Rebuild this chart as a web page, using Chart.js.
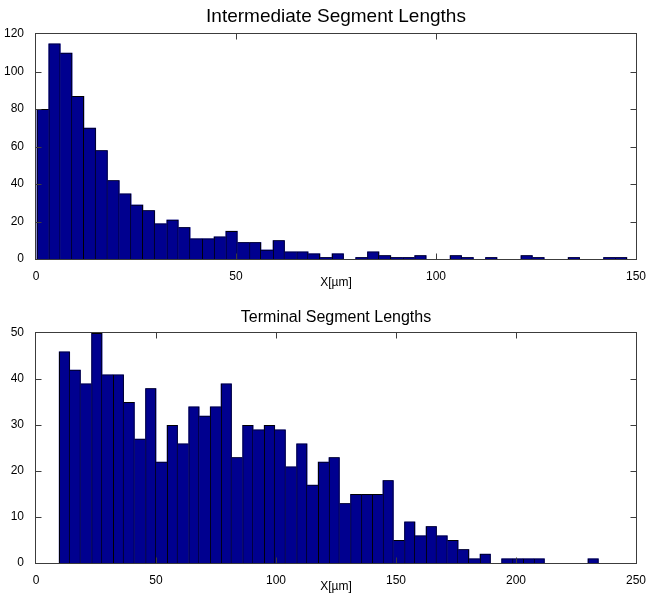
<!DOCTYPE html>
<html>
<head>
<meta charset="utf-8">
<title>Segment Lengths</title>
<script src="https://cdn.jsdelivr.net/npm/chart.js@4/dist/chart.umd.min.js"></script>
<style>
  html, body { margin: 0; padding: 0; background: #fff; }
  #wrap { position: relative; width: 650px; height: 599px; }
  canvas { position: absolute; left: 0; }
</style>
</head>
<body>
<div id="wrap">
  <canvas id="intermediate" width="650" height="300" style="top:0"></canvas>
  <canvas id="terminal" width="650" height="299" style="top:300px"></canvas>
</div>
<script>
// ---- data ----------------------------------------------------------------
const intermediateTitle = 'Intermediate Segment Lengths';
const terminalTitle = 'Terminal Segment Lengths';
const xAxisLabel = 'X[µm]';

// histogram counts per bin (50 bins each)
const intermediateCounts = [
  80, 115, 110, 87, 70, 58, 42, 35, 29, 26,
  19, 21, 17, 11, 11, 12, 15, 9, 9, 5,
  10, 4, 4, 3, 1, 3, 0, 1, 4, 2,
  1, 1, 2, 0, 0, 2, 1, 0, 1, 0,
  0, 2, 1, 0, 0, 1, 0, 0, 1, 1
];
const terminalCounts = [
  46, 42, 39, 50, 41, 41, 35, 27, 38, 22,
  30, 26, 34, 32, 34, 39, 23, 30, 29, 30,
  29, 21, 26, 17, 22, 23, 13, 15, 15, 15,
  18, 5, 9, 6, 8, 6, 5, 3, 1, 2,
  0, 1, 1, 1, 1, 0, 0, 0, 0, 1
];

// bin layout (left edge of first bin, bin width) in µm
const intermediateBinStart = 0.2;
const intermediateBinWidth = 2.951;
const terminalBinStart = 9.6;
const terminalBinWidth = 4.496;

// axis ticks
const intermediateXTicks = [0, 50, 100, 150];
const intermediateYTicks = [0, 20, 40, 60, 80, 100, 120];
const terminalXTicks = [0, 50, 100, 150, 200, 250];
const terminalYTicks = [0, 10, 20, 30, 40, 50];

// ---- drawing -------------------------------------------------------------
const FONT = "'Liberation Sans', Arial, Helvetica, sans-serif";
const BAR_FILL = 'rgb(0,0,143)';
const BAR_EDGE = '#000';
const AXIS_COLOR = '#3c3c3c';

function binPoints(counts, start, width) {
  return counts.map((c, i) => ({ x: start + (i + 0.5) * width, y: c }));
}

// one dark edge between neighbouring bars, drawn by whichever bar is taller
function edgeWidths(counts) {
  const last = counts.length - 1;
  return ctx => {
    const i = ctx.dataIndex;
    const c = counts[i];
    if (!c) return 0;
    return {
      top: 1,
      bottom: 0,
      left: (i === 0 || counts[i - 1] <= c) ? 1 : 0,
      right: (i === last || counts[i + 1] < c) ? 1 : 0
    };
  };
}

// boxed axes with short inward ticks on all four sides
const axesFrame = {
  id: 'axesFrame',
  afterDatasetsDraw(chart) {
    const { ctx, chartArea: a, scales: { x, y } } = chart;
    const L = Math.round(a.left) - 0.5, R = Math.round(a.right) + 0.5;
    const T = Math.round(a.top) - 0.5, B = Math.round(a.bottom) + 0.5;
    const len = 6;
    ctx.save();
    ctx.strokeStyle = AXIS_COLOR;
    ctx.lineWidth = 1;
    ctx.beginPath();
    x.ticks.forEach(t => {
      if (t.value <= x.min || t.value >= x.max) return;
      const px = Math.round(x.getPixelForValue(t.value)) + 0.5;
      ctx.moveTo(px, B); ctx.lineTo(px, B - len);
      ctx.moveTo(px, T); ctx.lineTo(px, T + len);
    });
    y.ticks.forEach(t => {
      if (t.value <= y.min || t.value >= y.max) return;
      const py = Math.round(y.getPixelForValue(t.value)) + 0.5;
      ctx.moveTo(L, py); ctx.lineTo(L + len, py);
      ctx.moveTo(R, py); ctx.lineTo(R - len, py);
    });
    ctx.stroke();
    ctx.strokeRect(L, T, R - L, B - T);
    ctx.restore();
  }
};

function histogram(id, o) {
  const tickFont = { family: FONT, size: 12 };
  const points = binPoints(o.counts, o.binStart, o.binWidth);
  return new Chart(document.getElementById(id), {
    type: 'bar',
    data: {
      datasets: [{
        // outlined histogram bars
        data: points,
        backgroundColor: BAR_FILL,
        borderColor: BAR_EDGE,
        borderWidth: edgeWidths(o.counts),
        borderSkipped: false,
        inflateAmount: 0,
        grouped: false,
        barPercentage: 1,
        categoryPercentage: 1
      }, {
        // slightly wider solid layer underneath so neighbouring bars join without seams
        data: points,
        backgroundColor: BAR_FILL,
        borderWidth: 0,
        inflateAmount: 0,
        grouped: false,
        barPercentage: 1.04,
        categoryPercentage: 1
      }]
    },
    options: {
      responsive: false,
      animation: false,
      devicePixelRatio: 1,
      layout: { padding: { left: 0, right: 14, top: 0, bottom: 0 } },
      plugins: {
        legend: { display: false },
        tooltip: { enabled: false },
        title: {
          display: true,
          text: o.title,
          fullSize: false,
          color: '#000',
          font: { family: FONT, size: o.titleSize, weight: 'normal', lineHeight: 1.2 },
          padding: o.titlePadding
        }
      },
      scales: {
        x: {
          type: 'linear',
          offset: false,
          min: o.xTicks[0],
          max: o.xTicks[o.xTicks.length - 1],
          afterBuildTicks: s => { s.ticks = o.xTicks.map(v => ({ value: v })); },
          grid: { display: false, offset: false },
          border: { display: false },
          ticks: { color: '#000', font: tickFont, padding: 2, maxRotation: 0, autoSkip: false },
          title: {
            display: true,
            text: xAxisLabel,
            color: '#000',
            font: { family: FONT, size: 12, lineHeight: 1.2 },
            padding: { top: 0, bottom: o.xTitleBottom }
          },
          afterFit: s => { s.height = o.xAxisHeight; }
        },
        y: {
          type: 'linear',
          min: o.yTicks[0],
          max: o.yTicks[o.yTicks.length - 1],
          afterBuildTicks: s => { s.ticks = o.yTicks.map(v => ({ value: v })); },
          grid: { display: false },
          border: { display: false },
          ticks: { color: '#000', font: tickFont, padding: 4, autoSkip: false },
          afterFit: s => { s.width = 36; }
        }
      }
    },
    plugins: [axesFrame]
  });
}

histogram('intermediate', {
  title: intermediateTitle,
  titleSize: 19,
  titlePadding: { top: 5.3, bottom: 5.9 },
  counts: intermediateCounts,
  binStart: intermediateBinStart,
  binWidth: intermediateBinWidth,
  xTicks: intermediateXTicks,
  yTicks: intermediateYTicks,
  xAxisHeight: 41,
  xTitleBottom: 9.8
});

histogram('terminal', {
  title: terminalTitle,
  titleSize: 16,
  titlePadding: { top: 8.4, bottom: 5.4 },
  counts: terminalCounts,
  binStart: terminalBinStart,
  binWidth: terminalBinWidth,
  xTicks: terminalXTicks,
  yTicks: terminalYTicks,
  xAxisHeight: 36,
  xTitleBottom: 4.8
});
</script>
</body>
</html>
